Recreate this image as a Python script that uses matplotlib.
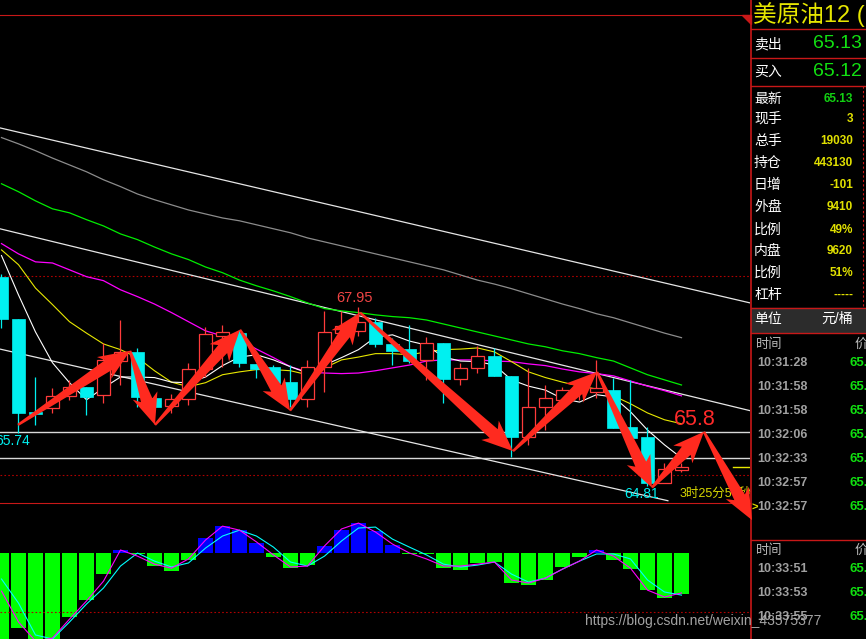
import matplotlib
matplotlib.use("Agg")
import matplotlib.pyplot as plt
from matplotlib.patches import Rectangle, Polygon
import numpy as np

# ---------------- data ----------------
c_open  = [68.48, 67.74, 66.11, 66.18, 66.39, 66.55, 66.41, 67.00, 67.16, 66.35,
           66.21, 66.34, 66.86, 67.44, 67.49, 66.95, 66.90, 66.63, 66.34, 66.90,
           67.49, 67.53, 67.69, 67.30, 67.21, 67.02, 67.32, 66.69, 66.88, 67.09,
           66.74, 65.67, 66.20, 66.32, 66.46, 66.46, 66.49, 65.85, 65.67, 64.86, 65.09]
c_close = [67.74, 66.09, 66.07, 66.39, 66.55, 66.37, 67.02, 67.16, 66.37, 66.20,
           66.34, 66.86, 67.48, 67.51, 66.97, 66.86, 66.62, 66.34, 66.90, 67.51,
           67.62, 67.69, 67.30, 67.18, 67.00, 67.32, 66.69, 66.88, 67.09, 66.74,
           65.67, 66.20, 66.35, 66.49, 66.53, 66.53, 65.83, 65.65, 64.86, 65.11, 65.14]
c_high  = [68.52, 67.74, 66.72, 66.53, 66.67, 66.55, 67.32, 67.72, 67.23, 66.35,
           66.42, 66.97, 67.60, 67.63, 67.55, 66.95, 66.93, 66.93, 67.02, 67.88,
           67.88, 67.95, 67.76, 67.41, 67.63, 67.42, 67.32, 66.97, 67.27, 67.23,
           66.74, 66.88, 66.58, 66.55, 66.55, 67.02, 66.70, 66.67, 65.85, 65.21, 65.21]
c_low   = [67.58, 65.74, 65.88, 66.09, 66.32, 66.06, 66.27, 66.58, 66.20, 66.11,
           66.09, 66.23, 66.72, 66.90, 66.90, 66.70, 66.62, 66.20, 66.20, 66.46,
           67.49, 67.44, 67.25, 66.93, 66.97, 66.67, 66.27, 66.58, 66.79, 66.74,
           65.32, 65.53, 65.79, 66.32, 66.32, 66.35, 65.83, 65.65, 64.81, 64.86, 65.06]
peak_bar = 22      # bar carrying the 67.95 high label
low_bar_left = 2   # bar carrying the 65.74 low label
low_bar_right = 39 # bar carrying the 64.81 low label

ma5  = [68.85, 68.16, 67.51, 66.97, 66.62, 66.32, 66.53, 66.72, 66.72, 66.71,
        66.63, 66.62, 66.72, 66.92, 67.07, 67.11, 67.02, 66.90, 66.79, 66.93,
        67.06, 67.20, 67.42, 67.46, 67.35, 67.28, 67.07, 67.00, 66.99, 66.93,
        66.67, 66.56, 66.49, 66.34, 66.28, 66.41, 66.37, 66.11, 65.79, 65.53, 65.30]
ma10 = [68.95, 68.69, 68.28, 67.99, 67.69, 67.49, 67.30, 67.20, 67.06, 66.83,
        66.63, 66.55, 66.62, 66.76, 66.81, 66.85, 66.85, 66.83, 66.76, 66.88,
        67.02, 67.07, 67.13, 67.13, 67.11, 67.16, 67.20, 67.21, 67.23, 67.16,
        66.99, 66.81, 66.71, 66.63, 66.56, 66.51, 66.39, 66.25, 66.09, 65.97, 65.90]
ma20 = [69.06, 68.88, 68.74, 68.72, 68.60, 68.48, 68.41, 68.25, 68.13, 68.00,
        67.85, 67.69, 67.53, 67.44, 67.37, 67.21, 67.06, 66.90, 66.81, 66.79,
        66.78, 66.79, 66.83, 66.88, 66.93, 67.00, 67.02, 67.02, 67.02, 67.00,
        66.99, 66.95, 66.92, 66.86, 66.81, 66.78, 66.74, 66.65, 66.56, 66.48, 66.39]
ma40 = [70.11, 69.97, 69.81, 69.67, 69.60, 69.48, 69.37, 69.23, 69.13, 69.00,
        68.88, 68.78, 68.65, 68.55, 68.42, 68.32, 68.23, 68.13, 68.02, 67.92,
        67.88, 67.85, 67.81, 67.78, 67.76, 67.72, 67.65, 67.58, 67.51, 67.44,
        67.37, 67.30, 67.25, 67.18, 67.13, 67.06, 67.00, 66.88, 66.76, 66.67, 66.58]
ma60 = [70.92, 70.81, 70.69, 70.56, 70.44, 70.32, 70.18, 70.06, 69.93, 69.83,
        69.74, 69.65, 69.58, 69.51, 69.46, 69.39, 69.32, 69.25, 69.16, 69.09,
        69.02, 68.95, 68.88, 68.81, 68.74, 68.67, 68.60, 68.51, 68.42, 68.35,
        68.27, 68.18, 68.09, 68.00, 67.92, 67.83, 67.76, 67.67, 67.58, 67.49, 67.41]

# channel (trend) lines: start/end bar positions and prices
trend_x = [[0.91, 45.03], [0.91, 45.03], [0.91, 40.2]]
trend_p = [[71.09, 68.02], [69.32, 66.13], [67.21, 64.55]]
level_lines = [65.76, 65.30]
grid_levels = [68.50, 65.00]

# zig-zag arrows drawn by the author
zig_x = [1.97, 8.56, 10.03, 15.03, 17.97, 22.09, 31.09, 36.03, 39.26, 42.32, 45.15]
zig_p = [65.88, 67.18, 65.88, 67.55, 66.13, 67.85, 65.42, 66.81, 64.78, 65.76, 64.21]
target_price = "65.8"

macd_hist = [-0.40, -0.318, -0.40, -0.40, -0.271, -0.199, -0.089, 0.013, -0.002, -0.055,
             -0.076, -0.030, 0.064, 0.114, 0.097, 0.042, -0.017, -0.064, -0.051, 0.030,
             0.097, 0.127, 0.093, 0.034, -0.006, -0.004, -0.064, -0.072, -0.042, -0.038,
             -0.127, -0.136, -0.114, -0.059, -0.017, 0.013, -0.030, -0.068, -0.157, -0.191, -0.174]
macd_dif = [-0.161, -0.292, -0.373, -0.360, -0.280, -0.203, -0.119, 0.013, -0.013, -0.047,
            -0.064, -0.025, 0.055, 0.114, 0.097, 0.047, -0.008, -0.059, -0.055, 0.030,
            0.102, 0.127, 0.089, 0.038, 0.000, -0.025, -0.055, -0.055, -0.047, -0.038,
            -0.114, -0.127, -0.106, -0.068, -0.034, 0.013, -0.013, -0.064, -0.157, -0.186, -0.169]
macd_dea = [-0.110, -0.212, -0.347, -0.364, -0.292, -0.216, -0.148, -0.055, 0.000, -0.034,
            -0.059, -0.042, 0.021, 0.072, 0.097, 0.072, 0.025, -0.038, -0.055, -0.013,
            0.051, 0.106, 0.110, 0.059, 0.025, -0.008, -0.047, -0.059, -0.051, -0.038,
            -0.089, -0.123, -0.106, -0.068, -0.034, -0.004, -0.004, -0.025, -0.114, -0.165, -0.178]
macd_grid = -0.25

title_text = "美原油12 ("
ask_label, ask_price = "卖出", "65.13"
bid_label, bid_price = "买入", "65.12"
quote_labels = ["最新", "现手", "总手", "持仓", "日增", "外盘", "比例", "内盘", "比例", "杠杆"]
quote_values = ["65.13", "3", "19030", "443130", "-101", "9410", "49%", "9620", "51%", "-----"]
unit_label, unit_value = "单位", "元/桶"
tick_times_1 = ["10:31:28", "10:31:58", "10:31:58", "10:32:06", "10:32:33", "10:32:57", "10:32:57"]
tick_times_2 = ["10:33:51", "10:33:53", "10:33:55"]
countdown = "3时25分57秒"
watermark = "https://blog.csdn.net/weixin_43575377"

# ---------------- style ----------------
plt.rcParams['font.family'] = ['Liberation Sans', 'Noto Sans CJK SC', 'DejaVu Sans']
RED = '#ff3b3b'
CYAN = '#00f0f0'
BORDER = '#c81818'
ARROW = '#ff2a1f'
W, H = 866, 639

fig = plt.figure(figsize=(W / 100, H / 100), dpi=100, facecolor='black')

# MACD panel
axm = fig.add_axes([0, 0, 750 / W, (H - 503) / H])
axm.set_facecolor('black')
axm.set_xlim(0.912, 45.03)
axm.set_ylim(-0.364, 0.212)
axm.set_xticks([]); axm.set_yticks([])
for s in axm.spines.values():
    s.set_visible(False)
xb = np.arange(1, len(macd_hist) + 1)
hist = np.array(macd_hist)
axm.bar(xb, hist, width=0.88, color=np.where(hist >= 0, '#0000ff', '#00ff00'), zorder=2)
axm.plot(xb, macd_dea, color='#00ffff', lw=0.8, zorder=3)
axm.plot(xb, macd_dif, color='#ff00ff', lw=0.8, zorder=4)
axm.axhline(macd_grid, color='#b00000', lw=0.8, ls=(0, (1.5, 2)))

# main price panel
ax = fig.add_axes([0, 1 - 503 / H, 750 / W, (503 - 15) / H])
ax.set_facecolor('black')
ax.set_xlim(0.912, 45.03)
ax.set_ylim(64.51, 73.07)
ax.set_xticks([]); ax.set_yticks([])
ax.spines['left'].set_visible(False)
ax.spines['right'].set_visible(False)
ax.spines['top'].set_color(BORDER)
ax.spines['bottom'].set_color(BORDER)

for g in grid_levels:
    ax.axhline(g, color='#b00000', lw=0.8, ls=(0, (1.5, 2)), zorder=1)
for lv in level_lines:
    ax.axhline(lv, color='#d8d8d8', lw=1.0, zorder=1)
for tx, tp in zip(trend_x, trend_p):
    ax.plot(tx, tp, color='#e6e6e6', lw=0.9, zorder=1)

xc = np.arange(1, len(c_open) + 1)
ax.plot(xc, ma60, color='#8c8c8c', lw=0.9, zorder=2)
ax.plot(xc, ma40, color='#00ee00', lw=0.9, zorder=2)
ax.plot(xc, ma20, color='#ff00ff', lw=0.9, zorder=2)
ax.plot(xc, ma10, color='#e8e800', lw=0.8, zorder=2)
ax.plot(xc, ma5, color='#ffffff', lw=0.8, zorder=2)

bw = 0.82
for xi, o, c, h, l in zip(xc, c_open, c_close, c_high, c_low):
    up = c >= o
    col = RED if up else CYAN
    ax.plot([xi, xi], [l, h], color=col, lw=0.9, zorder=3, solid_capstyle='butt')
    bot = min(o, c)
    hgt = max(abs(c - o), 0.02)
    if up:
        ax.add_patch(Rectangle((xi - bw / 2, bot), bw, hgt, facecolor='black',
                               edgecolor=col, lw=0.9, zorder=4))
    else:
        ax.add_patch(Rectangle((xi - bw / 2, bot), bw, hgt, facecolor=col,
                               edgecolor=col, lw=0.5, zorder=4))

# last-price marker
ax.plot([44.03, 45.03], [c_close[-1], c_close[-1]], color='#e8e800', lw=1.0, zorder=3)

# price labels
ip, il, ir = peak_bar - 1, low_bar_left - 1, low_bar_right - 1
ax.text(xc[ip] - 0.25, c_high[ip] + 0.16, f"{c_high[ip]:.2f}", color='#f04444',
        fontsize=10.5, ha='center', va='center', zorder=6)
ax.text(0.62, c_low[il] - 0.14, f"{c_low[il]:.2f}", color=CYAN, fontsize=10,
        ha='left', va='center', zorder=6)
ax.text(xc[ir] - 0.32, c_low[ir] - 0.14, f"{c_low[ir]:.2f}", color=CYAN, fontsize=10,
        ha='center', va='center', zorder=6)
ax.text(41.79, 65.97, target_price, color='#ff2a2a', fontsize=15.5, ha='center',
        va='center', zorder=6)
ax.text(40.91, 64.67, countdown, color='#d8d800', fontsize=9, ha='left', va='center', zorder=6)

# overlay in pixel coordinates (right panel, arrows, watermark)
ov = fig.add_axes([0, 0, 1, 1])
ov.set_xlim(0, W); ov.set_ylim(H, 0)
ov.axis('off')

def px_of(x, p):
    dx, dy = ax.transData.transform((x, p))
    return np.array([dx, H - dy])

for i in range(len(zig_x) - 1):
    P = px_of(zig_x[i], zig_p[i]); Q = px_of(zig_x[i + 1], zig_p[i + 1])
    v = Q - P; L = np.hypot(*v); u = v / L; n = np.array([-u[1], u[0]])
    hl, hw, sw0, sw1 = 26, 13, 1.2, 6.0
    B = Q - u * hl
    verts = [P + n * sw0, B + n * sw1, B - u * 5 + n * hw, Q,
             B - u * 5 - n * hw, B - n * sw1, P - n * sw0]
    ov.add_patch(Polygon(verts, closed=True, facecolor=ARROW, edgecolor='none', zorder=5))

# right panel frame
ov.plot([750.5, 750.5], [0, H], color=BORDER, lw=1.2)
ov.add_patch(Polygon([(742, 15), (751, 15), (751, 24)], closed=True, color=BORDER))
ov.add_patch(Rectangle((751, 308), W - 751, 24, color='#2c2c2c'))
for yy in [28.5, 57.5, 85.5, 307.5, 332.5, 539.5]:
    ov.plot([751, W], [yy, yy], color=BORDER, lw=1.0)
ov.plot([862.5, 862.5], [86, 307], color=BORDER, lw=0.8, ls=(0, (2, 2)))

ov.text(753, 15, title_text, color='#e6e600', fontsize=17, ha='left', va='center')
ov.text(754, 44, ask_label, color='white', fontsize=10, ha='left', va='center')
ov.text(862, 44, ask_price, color='#12e012', fontsize=14, ha='right', va='center')
ov.text(754, 72, bid_label, color='white', fontsize=10, ha='left', va='center')
ov.text(862, 72, bid_price, color='#12e012', fontsize=14, ha='right', va='center')

row_y = [99, 119, 141, 163, 185, 207, 230, 251, 273, 295]
for k, (lab, val) in enumerate(zip(quote_labels, quote_values)):
    ov.text(754, row_y[k], lab, color='white', fontsize=10, ha='left', va='center')
    ov.text(853, row_y[k], val, color='#12d012' if k == 0 else '#e0e000',
            fontsize=8.5, fontweight='bold', ha='right', va='center')

ov.text(754, 319, unit_label, color='white', fontsize=10, ha='left', va='center')
ov.text(853, 319, unit_value, color='white', fontsize=10, ha='right', va='center')

for y0, times in [(345, tick_times_1), (551, tick_times_2)]:
    ov.text(756, y0, "时间", color='#b8b8b8', fontsize=9.5, ha='left', va='center')
    ov.text(855, y0, "价", color='#b8b8b8', fontsize=9.5, ha='left', va='center')
    for j, t in enumerate(times):
        yy = y0 + 18 + j * 24
        ov.text(757, yy, t, color='#a0a0a0', fontsize=9, fontweight='bold', ha='left', va='center')
        ov.text(850, yy, "65.", color='#10e010', fontsize=9.5, fontweight='bold', ha='left', va='center')
ov.text(751, 508, ">", color='#e0e000', fontsize=8, fontweight='bold', ha='left', va='center')

ov.text(585, 621, watermark, color='#b4b4b4', fontsize=10, ha='left', va='center', alpha=0.9)

fig.savefig("out.png", dpi=100, facecolor='black')
